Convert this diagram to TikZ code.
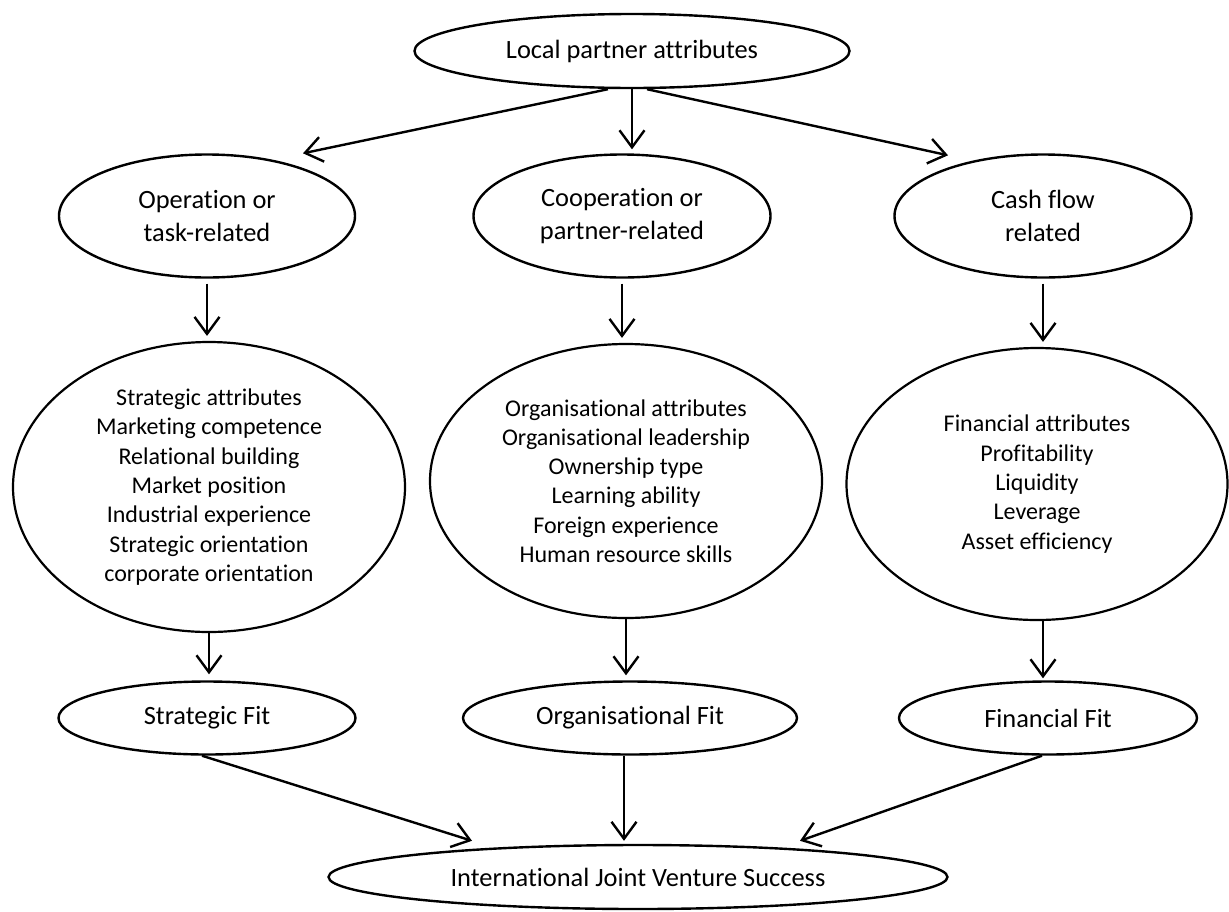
\documentclass[tikz,border=0pt]{standalone}
\usepackage{fontspec}
\setmainfont{Carlito}[Ligatures=NoCommon]
\usetikzlibrary{shapes.geometric,arrows.meta}

\begin{document}
\begin{tikzpicture}[x=1pt, y=-1pt, line width=2.4pt,
		oval/.style={draw, ellipse, inner sep=0pt, align=center, font=\fontsize{26.4}{33}\selectfont},
		bigoval/.style={oval, line width=2.2pt, font=\fontsize{24}{29.3}\selectfont},
		link/.style={-{Straight Barb[length=17pt,width=25pt]}}]
		\useasboundingbox (0, 0) rectangle (1229, 911);
		
		\node[oval, minimum width=435pt, minimum height=74pt] (local) at (632, 51) {Local partner attributes};
		
		\node[oval, minimum width=296pt, minimum height=123pt] (task) at (207, 216) {Operation or\\task-related};
		\node[oval, minimum width=297pt, minimum height=123pt] (partner) at (622, 216) {Cooperation or\\partner-related};
		\node[oval, minimum width=297pt, minimum height=123pt] (cash) at (1043, 216) {Cash flow\\related};
		
		\node[bigoval, minimum width=392pt, minimum height=290pt] (strat) at (209, 487) {Strategic attributes\\Marketing competence\\Relational building\\Market position\\Industrial experience\\Strategic orientation\\corporate orientation};
		\node[bigoval, minimum width=392pt, minimum height=274pt] (org) at (626, 481) {Organisational attributes\\Organisational leadership\\Ownership type\\Learning ability\\Foreign experience\\Human resource skills};
		\node[bigoval, minimum width=381pt, minimum height=272pt] (fin) at (1037, 484) {Financial attributes\\Profitability\\Liquidity\\Leverage\\Asset efficiency};
		
		\node[oval, minimum width=297pt, minimum height=73pt] (sfit) at (207, 718) {Strategic Fit};
		\node[oval, minimum width=334pt, minimum height=73pt] (ofit) at (630, 718) {Organisational Fit};
		\node[oval, minimum width=298pt, minimum height=73pt] (ffit) at (1048, 718) {Financial Fit};
		
		\node[oval, minimum width=619pt, minimum height=64pt] (ijv) at (638, 877) {International Joint Venture Success};
		
		\draw[link] ([xshift=-24pt]local.south) -- ([xshift=96pt]task.north);
		\draw[link] (local.south) -- ([yshift=4pt]local.south |- partner.north);
		\draw[link] ([xshift=15pt]local.south) -- ([xshift=-95pt, yshift=-2pt]cash.north);
		
		\draw[link] ([yshift=-5pt]task.south) -- ([yshift=5pt]task.south |- strat.north);
		\draw[link] ([yshift=-5pt]partner.south) -- ([yshift=5pt]partner.south |- org.north);
		\draw[link] ([yshift=-5pt]cash.south) -- ([yshift=5pt]cash.south |- fin.north);
		
		\draw[link] (strat.south) -- ([yshift=6pt]strat.south |- sfit.north);
		\draw[link] (org.south) -- ([yshift=5pt]org.south |- ofit.north);
		\draw[link] ([xshift=6pt]fin.south) -- ([xshift=6pt, yshift=2pt]fin.south |- ffit.north);
		
		\draw[link] ([xshift=-5pt]sfit.south) -- ([xshift=-166pt, yshift=3pt]ijv.north);
		\draw[link] ([xshift=-6pt]ofit.south) -- ([xshift=-14pt, yshift=3pt]ijv.north);
		\draw[link] ([xshift=-6pt]ffit.south) -- ([xshift=162pt, yshift=3pt]ijv.north);
	\end{tikzpicture}
\end{document}
